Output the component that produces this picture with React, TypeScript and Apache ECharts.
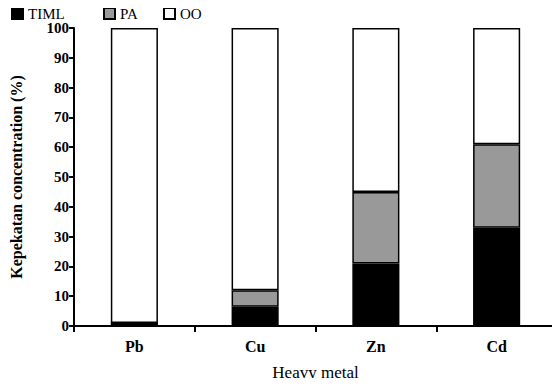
import React, { useEffect, useRef } from "react";
import * as echarts from "echarts";

const categories = ["Pb", "Cu", "Zn", "Cd"];
const timl = [1, 6.5, 21, 33];
const pa = [0, 5.5, 24, 28];
const oo = [99, 88, 55, 39];
const seriesNames = ["TIML", "PA", "OO"];
const colors = ["#000000", "#999999", "#ffffff"];
const legendLefts = [11, 103, 163];

const FONT = "'Liberation Serif', 'Times New Roman', serif";

export default function App() {
  const ref = useRef<HTMLDivElement>(null);
  useEffect(() => {
    if (!ref.current) return;
    const chart = echarts.init(ref.current, undefined, { renderer: "svg" });
    const data = [timl, pa, oo];
    chart.setOption({
      animation: false,
      textStyle: { fontFamily: FONT, color: "#000" },
      legend: seriesNames.map((name, i) => ({
        left: legendLefts[i],
        top: 6,
        icon: "rect",
        itemWidth: 11,
        itemHeight: 11,
        padding: 0,
        textStyle: {
          fontFamily: FONT,
          fontSize: 15,
          color: "#000",
        },
        data: [name],
      })),
      grid: { left: 69, right: 3, top: 28, bottom: 58 },
      xAxis: {
        type: "category",
        data: categories,
        name: "Heavy metal",
        nameLocation: "middle",
        nameGap: 38,
        nameTextStyle: { fontFamily: FONT, fontSize: 17, color: "#000" },
        axisLine: { lineStyle: { color: "#000", width: 2 } },
        axisTick: { show: true, length: 6, lineStyle: { color: "#000", width: 2 } },
        axisLabel: { fontFamily: FONT, fontSize: 16, color: "#000", fontWeight: "bold", margin: 12 },
      },
      yAxis: {
        type: "value",
        min: 0,
        max: 100,
        interval: 10,
        name: "Kepekatan concentration (%)",
        nameLocation: "middle",
        nameGap: 50,
        nameTextStyle: { fontFamily: FONT, fontSize: 16, fontWeight: "bold", color: "#000" },
        splitLine: { show: false },
        axisLine: { show: true, lineStyle: { color: "#000", width: 2 } },
        axisTick: { show: true, length: 5, lineStyle: { color: "#000", width: 2 } },
        axisLabel: {
          fontFamily: FONT,
          fontSize: 15,
          fontWeight: "bold",
          color: "#000",
          margin: 5,
        },
      },
      series: seriesNames.map((name, i) => ({
        name,
        type: "bar",
        stack: "total",
        barWidth: "39%",
        data: data[i],
        itemStyle: { color: colors[i], borderColor: "#000", borderWidth: 1.5 },
      })),
    });
    return () => chart.dispose();
  }, []);
  return <div ref={ref} style={{ width: 560, height: 386, margin: -8 }} />;
}
